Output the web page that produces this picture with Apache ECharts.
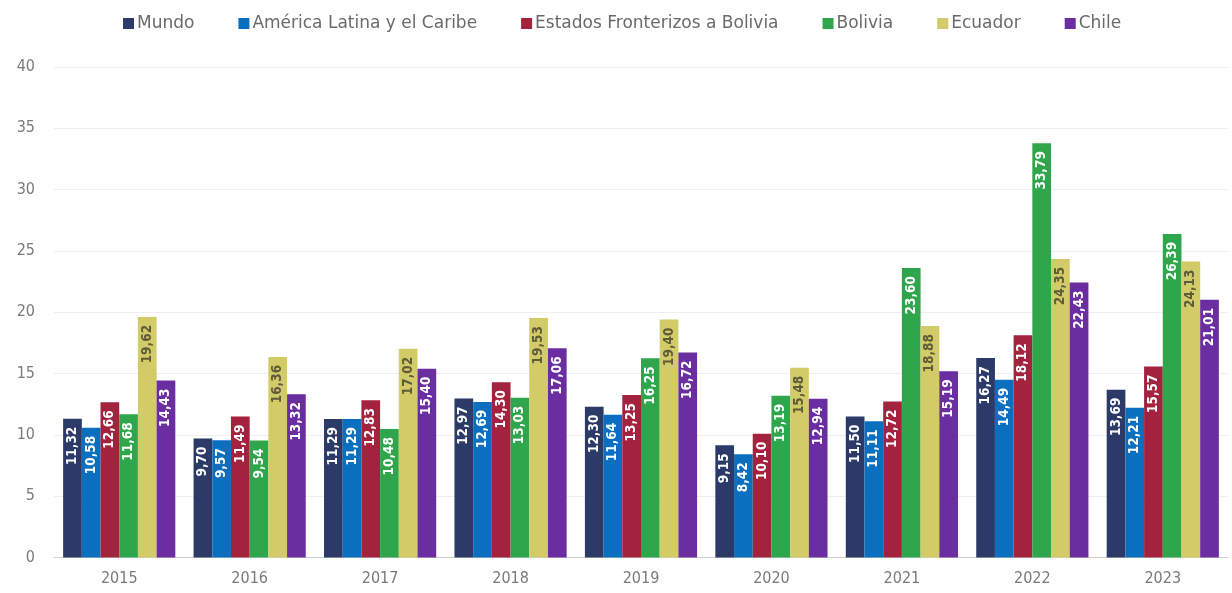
<!DOCTYPE html>
<html>
<head>
<meta charset="utf-8">
<script src="https://cdn.jsdelivr.net/npm/echarts@6/dist/echarts.min.js"></script>
<style>
html,body{margin:0;padding:0;background:#fff;}
#chart{width:1232px;height:593px;}
</style>
</head>
<body>
<div id="chart"></div>
<script>
const categories = ['2015','2016','2017','2018','2019','2020','2021','2022','2023'];
const seriesNames = ['Mundo','América Latina y el Caribe','Estados Fronterizos a Bolivia','Bolivia','Ecuador','Chile'];
const mundo    = [11.32, 9.70, 11.29, 12.97, 12.30, 9.15, 11.50, 16.27, 13.69];
const alc      = [10.58, 9.57, 11.29, 12.69, 11.64, 8.42, 11.11, 14.49, 12.21];
const fronteri = [12.66, 11.49, 12.83, 14.30, 13.25, 10.10, 12.72, 18.12, 15.57];
const bolivia  = [11.68, 9.54, 10.48, 13.03, 16.25, 13.19, 23.60, 33.79, 26.39];
const ecuador  = [19.62, 16.36, 17.02, 19.53, 19.40, 15.48, 18.88, 24.35, 24.13];
const chile    = [14.43, 13.32, 15.40, 17.06, 16.72, 12.94, 15.19, 22.43, 21.01];
const yTicks = [0, 40, 5];

const values = [mundo, alc, fronteri, bolivia, ecuador, chile];
const colors = ['#2b3a67','#0b6fbf','#a3233e','#2fa64b','#d3cb68','#6a2ea0'];
const labelColors = ['#fff','#fff','#fff','#fff','#5e5b3a','#fff'];
const COND = 'DejaVu Sans Condensed';

const chart = echarts.init(document.getElementById('chart'), null, {renderer:'canvas'});
chart.setOption({
  animation:false,
  backgroundColor:'#fff',
  color: colors,
  legend:{
    top: 10, left: 118,
    itemWidth: 11, itemHeight: 11, itemGap: 44,
    icon: 'rect',
    textStyle:{color:'#6a6a6a', fontSize:17, fontFamily:'DejaVu Sans', padding:[0,0,0,-2]},
    data: seriesNames
  },
  grid:{left:54, right:4, top:67, bottom:35.5, containLabel:false},
  xAxis:{
    type:'category', data:categories,
    axisTick:{show:false},
    axisLine:{lineStyle:{color:'#d0d0d0'}},
    axisLabel:{color:'#7a7a7a', fontSize:16, fontFamily:COND, margin:13}
  },
  yAxis:{
    type:'value', min:yTicks[0], max:yTicks[1], interval:yTicks[2],
    axisLine:{show:false}, axisTick:{show:false},
    splitLine:{lineStyle:{color:'#efefef'}},
    axisLabel:{color:'#7a7a7a', fontSize:16, fontFamily:COND, margin:19}
  },
  series: values.map((v,i)=>({
    name: seriesNames[i], type:'bar', data:v,
    barGap:'0%', barCategoryGap:'14%',
    itemStyle:{color:colors[i]},
    label:{
      show:true, position:'insideTop', rotate:90, distance:8,
      align:'right', verticalAlign:'middle',
      color:labelColors[i], fontSize:13.5, fontWeight:'bold', fontFamily:COND,
      formatter: p => p.value.toFixed(2).replace('.', ',')
    }
  }))
});
</script>
</body>
</html>
